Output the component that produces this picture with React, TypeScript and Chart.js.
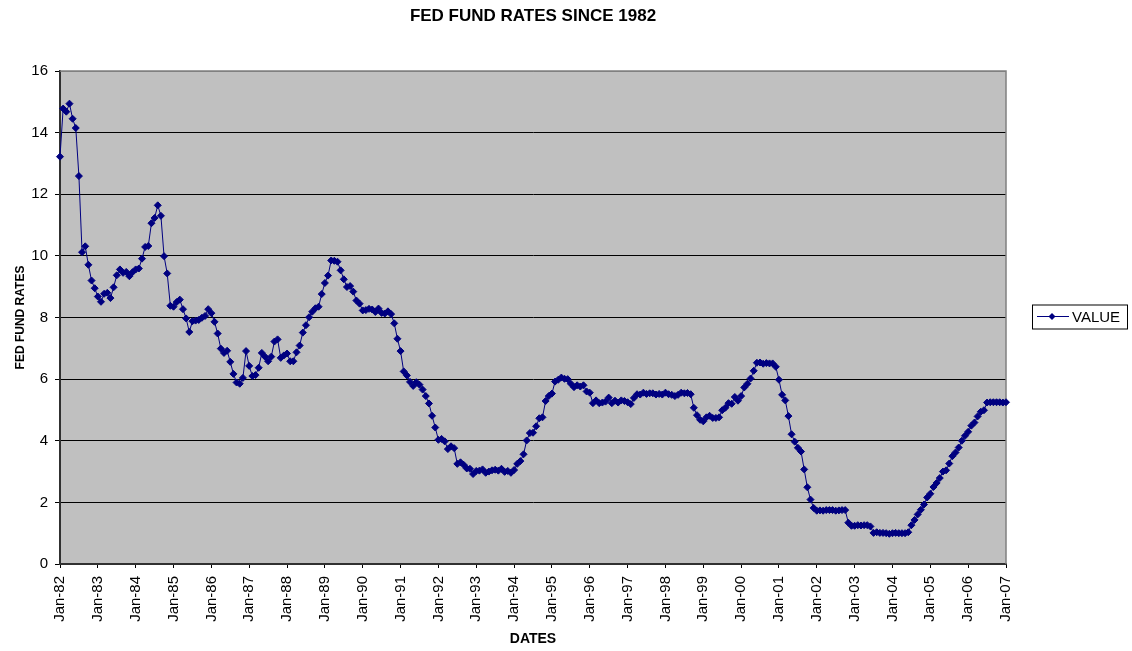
import React, { useEffect, useRef } from "react";
import { Chart, registerables } from "chart.js";

Chart.register(...registerables);

const monthNames = ["Jan", "Feb", "Mar", "Apr", "May", "Jun", "Jul", "Aug", "Sep", "Oct", "Nov", "Dec"];
const yearLabels = ["82", "83", "84", "85", "86", "87", "88", "89", "90", "91", "92", "93", "94", "95", "96", "97", "98", "99", "00", "01", "02", "03", "04", "05", "06", "07"];

const rates1982to1986 = [
  13.22, 14.78, 14.68, 14.94, 14.45, 14.15, 12.59, 10.12, 10.31, 9.71, 9.2, 8.95,
  8.68, 8.51, 8.77, 8.8, 8.63, 8.98, 9.37, 9.56, 9.45, 9.48, 9.34, 9.47,
  9.56, 9.59, 9.91, 10.29, 10.32, 11.06, 11.23, 11.64, 11.3, 9.99, 9.43, 8.38,
  8.35, 8.5, 8.58, 8.27, 7.97, 7.53, 7.88, 7.9, 7.92, 7.99, 8.05, 8.27,
  8.14, 7.86, 7.48, 6.99, 6.85, 6.92, 6.56, 6.17, 5.89, 5.85, 6.04, 6.91,
];
const rates1987to1991 = [
  6.43, 6.1, 6.13, 6.37, 6.85, 6.73, 6.58, 6.73, 7.22, 7.29, 6.69, 6.77,
  6.83, 6.58, 6.58, 6.87, 7.09, 7.51, 7.75, 8.01, 8.19, 8.3, 8.35, 8.76,
  9.12, 9.36, 9.85, 9.84, 9.81, 9.53, 9.24, 8.99, 9.02, 8.84, 8.55, 8.45,
  8.23, 8.24, 8.28, 8.26, 8.18, 8.29, 8.15, 8.13, 8.2, 8.11, 7.81, 7.31,
  6.91, 6.25, 6.12, 5.91, 5.78, 5.9, 5.82, 5.66, 5.45, 5.21, 4.81, 4.43,
];
const rates1992to1996 = [
  4.03, 4.06, 3.98, 3.73, 3.82, 3.76, 3.25, 3.3, 3.22, 3.1, 3.09, 2.92,
  3.02, 3.03, 3.07, 2.96, 3.0, 3.04, 3.06, 3.03, 3.09, 2.99, 3.02, 2.96,
  3.05, 3.25, 3.34, 3.56, 4.01, 4.25, 4.26, 4.47, 4.73, 4.76, 5.29, 5.45,
  5.53, 5.92, 5.98, 6.05, 6.01, 6.0, 5.85, 5.74, 5.8, 5.76, 5.8, 5.6,
  5.56, 5.22, 5.31, 5.22, 5.24, 5.27, 5.4, 5.22, 5.3, 5.24, 5.31, 5.29,
];
const rates1997to2001 = [
  5.25, 5.19, 5.39, 5.51, 5.5, 5.56, 5.52, 5.54, 5.54, 5.5, 5.52, 5.5,
  5.56, 5.51, 5.49, 5.45, 5.49, 5.56, 5.54, 5.55, 5.51, 5.07, 4.83, 4.68,
  4.63, 4.76, 4.81, 4.74, 4.74, 4.76, 4.99, 5.07, 5.22, 5.2, 5.42, 5.3,
  5.45, 5.73, 5.85, 6.02, 6.27, 6.53, 6.54, 6.5, 6.52, 6.51, 6.51, 6.4,
  5.98, 5.49, 5.31, 4.8, 4.21, 3.97, 3.77, 3.65, 3.07, 2.49, 2.09, 1.82,
];
const rates2002to2007 = [
  1.73, 1.74, 1.73, 1.75, 1.75, 1.75, 1.73, 1.74, 1.75, 1.75, 1.34, 1.24,
  1.24, 1.26, 1.25, 1.26, 1.26, 1.22, 1.01, 1.03, 1.01, 1.01, 1.0, 0.98,
  1.0, 1.01, 1.0, 1.0, 1.0, 1.03, 1.26, 1.43, 1.61, 1.76, 1.93, 2.16,
  2.28, 2.5, 2.63, 2.79, 3.0, 3.04, 3.26, 3.5, 3.62, 3.78, 4.0, 4.16,
  4.29, 4.49, 4.59, 4.79, 4.94, 4.99, 5.24, 5.25, 5.25, 5.25, 5.25, 5.24,
  5.25,
];

const values = [
  ...rates1982to1986,
  ...rates1987to1991,
  ...rates1992to1996,
  ...rates1997to2001,
  ...rates2002to2007,
];

const dateLabels: string[] = [];
yearLabels.forEach((y) => monthNames.forEach((m) => dateLabels.push(`${m}-${y}`)));
const labels = dateLabels.slice(0, values.length);

const yTicks = [0, 2, 4, 6, 8, 10, 12, 14, 16];

const NAVY = "#000080";
const FONT = "'Liberation Sans', Arial, sans-serif";

const plotBg = {
  id: "plotBg",
  beforeDraw(chart: any) {
    const { ctx, chartArea: a } = chart;
    ctx.save();
    ctx.fillStyle = "#C0C0C0";
    ctx.fillRect(a.left, a.top, a.right - a.left, a.bottom - a.top);
    ctx.restore();
  },
  beforeDatasetsDraw(chart: any) {
    const { ctx, chartArea: a } = chart;
    ctx.save();
    ctx.strokeStyle = "#808080";
    ctx.lineWidth = 1.5;
    ctx.beginPath();
    ctx.moveTo(a.left, a.top);
    ctx.lineTo(a.right, a.top);
    ctx.lineTo(a.right, a.bottom);
    ctx.stroke();
    ctx.restore();
  },
};

const boxLegend = {
  id: "boxLegend",
  afterDraw(chart: any) {
    const { ctx, chartArea: a } = chart;
    const midY = (a.top + a.bottom) / 2 - 1;
    const x0 = a.right + 26;
    const w = 95;
    const h = 24;
    ctx.save();
    ctx.fillStyle = "#FFFFFF";
    ctx.fillRect(x0, midY - h / 2, w, h);
    ctx.strokeStyle = "#000000";
    ctx.lineWidth = 1;
    ctx.strokeRect(x0 + 0.5, midY - h / 2 + 0.5, w, h);
    ctx.strokeStyle = NAVY;
    ctx.beginPath();
    ctx.moveTo(x0 + 5, midY);
    ctx.lineTo(x0 + 37, midY);
    ctx.stroke();
    ctx.fillStyle = NAVY;
    ctx.beginPath();
    const cx = x0 + 20;
    ctx.moveTo(cx - 3.5, midY);
    ctx.lineTo(cx, midY - 3.5);
    ctx.lineTo(cx + 3.5, midY);
    ctx.lineTo(cx, midY + 3.5);
    ctx.closePath();
    ctx.fill();
    ctx.fillStyle = "#000000";
    ctx.font = `15px ${FONT}`;
    ctx.textBaseline = "middle";
    ctx.textAlign = "left";
    ctx.fillText("VALUE", x0 + 40, midY + 1);
    ctx.restore();
  },
};

export default function App() {
  const ref = useRef<HTMLCanvasElement>(null);

  useEffect(() => {
    if (!ref.current) return;
    const chart = new Chart(ref.current, {
      type: "line",
      data: {
        labels,
        datasets: [
          {
            label: "VALUE",
            data: values,
            borderColor: NAVY,
            backgroundColor: NAVY,
            borderWidth: 1,
            tension: 0,
            pointStyle: "rectRot",
            pointRadius: 3.5,
            pointBorderWidth: 1,
            pointBackgroundColor: NAVY,
            pointBorderColor: NAVY,
          },
        ],
      },
      options: {
        responsive: false,
        animation: false,
        layout: { padding: { left: 0, right: 126, top: 0, bottom: 0 } },
        plugins: {
          legend: { display: false },
          tooltip: { enabled: false },
          title: {
            display: true,
            text: "FED FUND RATES SINCE 1982",
            fullSize: false,
            color: "#000",
            font: { family: FONT, size: 17, weight: "bold" },
            padding: { top: 6, bottom: 44.6 },
          },
        },
        scales: {
          x: {
            type: "category",
            offset: false,
            afterFit(scale: any) {
              scale.height = 87;
            },
            grid: {
              display: true,
              drawOnChartArea: false,
              drawTicks: true,
              tickLength: 4,
              offset: false,
              color: (c: any) => (c.index % 12 === 0 ? "#000000" : "rgba(0,0,0,0)"),
            },
            border: { display: true, color: "#303030", width: 2 },
            ticks: {
              autoSkip: false,
              minRotation: 90,
              maxRotation: 90,
              padding: 8,
              color: "#000",
              font: { family: FONT, size: 15 },
              callback: (_v: any, i: number) => (i % 12 === 0 ? labels[i] : ""),
            },
            title: {
              display: true,
              text: "DATES",
              color: "#000",
              font: { family: FONT, size: 14, weight: "bold" },
              padding: { top: 0, bottom: 3 },
            },
          },
          y: {
            min: yTicks[0],
            max: yTicks[yTicks.length - 1],
            afterFit(scale: any) {
              scale.width = 60;
            },
            afterBuildTicks(scale: any) {
              scale.ticks = yTicks.map((v) => ({ value: v }));
            },
            grid: {
              color: (c: any) => (c.tick && c.tick.value === 16 ? "#808080" : "#000000"),
              lineWidth: 1,
              drawTicks: true,
              tickLength: 5,
              tickColor: "#000000",
            },
            border: { display: true, color: "#303030", width: 2 },
            ticks: {
              padding: 7,
              color: "#000",
              font: { family: FONT, size: 15 },
            },
            title: {
              display: true,
              text: "FED FUND RATES",
              color: "#000",
              font: { family: FONT, size: 12, weight: "bold" },
              padding: { top: 13, bottom: 0 },
            },
          },
        },
      },
      plugins: [plotBg, boxLegend],
    });
    return () => chart.destroy();
  }, []);

  return (
    <div style={{ position: "fixed", left: 0, top: 0, width: 1132, height: 651, background: "#fff" }}>
      <canvas ref={ref} width={1132} height={651} style={{ display: "block" }} />
    </div>
  );
}
